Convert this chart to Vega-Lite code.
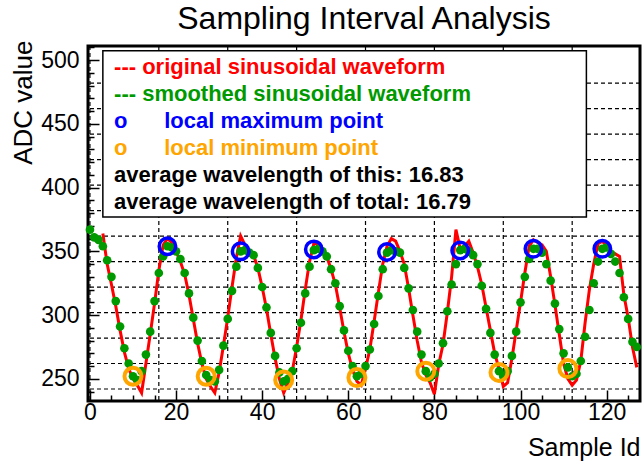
{
  "$schema": "https://vega.github.io/schema/vega-lite/v6.json",
  "width": 552,
  "height": 355,
  "autosize": {"type": "none"},
  "padding": {"left": 88, "top": 46, "right": 4, "bottom": 62},
  "background": "white",
  "title": {"text": "Sampling Interval Analysis", "fontSize": 32, "font": "Liberation Sans", "fontWeight": "normal", "color": "black", "anchor": "middle", "baseline": "alphabetic", "offset": -25},
  "config": {
    "view": {"stroke": "black", "strokeWidth": 3},
    "font": "Liberation Sans",
    "axis": {"labelOverlap": false, "labelFlush": false, "grid": false, "domain": false, "tickColor": "black", "tickWidth": 1.5, "labelColor": "black", "titleColor": "black", "labelFont": "Liberation Sans", "titleFont": "Liberation Sans", "labelFontSize": 23, "titleFontWeight": "normal"}
  },
  "datasets": {
    "wave": [
      {"sample": 0, "original": null, "smoothed": 367},
      {"sample": 1, "original": null, "smoothed": 361},
      {"sample": 2, "original": null, "smoothed": 359},
      {"sample": 3, "original": 364, "smoothed": 354},
      {"sample": 4, "original": 340, "smoothed": 343},
      {"sample": 5, "original": 324, "smoothed": 330},
      {"sample": 6, "original": 307, "smoothed": 311},
      {"sample": 7, "original": 288, "smoothed": 291},
      {"sample": 8, "original": 271, "smoothed": 274},
      {"sample": 9, "original": 258, "smoothed": 262},
      {"sample": 10, "original": 250, "smoothed": 252},
      {"sample": 11, "original": 245, "smoothed": 249},
      {"sample": 12, "original": 239, "smoothed": 256},
      {"sample": 13, "original": 262, "smoothed": 269},
      {"sample": 14, "original": 285, "smoothed": 287},
      {"sample": 15, "original": 309, "smoothed": 311},
      {"sample": 16, "original": 335, "smoothed": 333},
      {"sample": 17, "original": 355, "smoothed": 346},
      {"sample": 18, "original": 360, "smoothed": 354},
      {"sample": 19, "original": 357, "smoothed": 353},
      {"sample": 20, "original": 350, "smoothed": 350},
      {"sample": 21, "original": 342, "smoothed": 344},
      {"sample": 22, "original": 332, "smoothed": 333},
      {"sample": 23, "original": 316, "smoothed": 317},
      {"sample": 24, "original": 297, "smoothed": 298},
      {"sample": 25, "original": 278, "smoothed": 280},
      {"sample": 26, "original": 262, "smoothed": 264},
      {"sample": 27, "original": 250, "smoothed": 253},
      {"sample": 28, "original": 244, "smoothed": 249},
      {"sample": 29, "original": 239, "smoothed": 248},
      {"sample": 30, "original": 255, "smoothed": 257},
      {"sample": 31, "original": 276, "smoothed": 276},
      {"sample": 32, "original": 298, "smoothed": 297},
      {"sample": 33, "original": 322, "smoothed": 319},
      {"sample": 34, "original": 345, "smoothed": 338},
      {"sample": 35, "original": 362, "smoothed": 350},
      {"sample": 36, "original": 355, "smoothed": 351},
      {"sample": 37, "original": 350, "smoothed": 349},
      {"sample": 38, "original": 347, "smoothed": 347},
      {"sample": 39, "original": 337, "smoothed": 337},
      {"sample": 40, "original": 322, "smoothed": 322},
      {"sample": 41, "original": 305, "smoothed": 306},
      {"sample": 42, "original": 285, "smoothed": 286},
      {"sample": 43, "original": 266, "smoothed": 268},
      {"sample": 44, "original": 250, "smoothed": 255},
      {"sample": 45, "original": 239, "smoothed": 248},
      {"sample": 46, "original": 247, "smoothed": 250},
      {"sample": 47, "original": 256, "smoothed": 256},
      {"sample": 48, "original": 275, "smoothed": 274},
      {"sample": 49, "original": 296, "smoothed": 294},
      {"sample": 50, "original": 320, "smoothed": 317},
      {"sample": 51, "original": 342, "smoothed": 338},
      {"sample": 52, "original": 356, "smoothed": 351},
      {"sample": 53, "original": 357, "smoothed": 352},
      {"sample": 54, "original": 352, "smoothed": 350},
      {"sample": 55, "original": 346, "smoothed": 346},
      {"sample": 56, "original": 336, "smoothed": 336},
      {"sample": 57, "original": 324, "smoothed": 325},
      {"sample": 58, "original": 306, "smoothed": 307},
      {"sample": 59, "original": 287, "smoothed": 288},
      {"sample": 60, "original": 270, "smoothed": 272},
      {"sample": 61, "original": 257, "smoothed": 260},
      {"sample": 62, "original": 248, "smoothed": 252},
      {"sample": 63, "original": 245, "smoothed": 254},
      {"sample": 64, "original": 258, "smoothed": 260},
      {"sample": 65, "original": 273, "smoothed": 273},
      {"sample": 66, "original": 295, "smoothed": 293},
      {"sample": 67, "original": 318, "smoothed": 315},
      {"sample": 68, "original": 340, "smoothed": 336},
      {"sample": 69, "original": 354, "smoothed": 349},
      {"sample": 70, "original": 360, "smoothed": 351},
      {"sample": 71, "original": 358, "smoothed": 350},
      {"sample": 72, "original": 350, "smoothed": 349},
      {"sample": 73, "original": 340, "smoothed": 337},
      {"sample": 74, "original": 321, "smoothed": 321},
      {"sample": 75, "original": 300, "smoothed": 304},
      {"sample": 76, "original": 280, "smoothed": 287},
      {"sample": 77, "original": 263, "smoothed": 269},
      {"sample": 78, "original": 253, "smoothed": 256},
      {"sample": 79, "original": 247, "smoothed": 251},
      {"sample": 80, "original": 238, "smoothed": 254},
      {"sample": 81, "original": 261, "smoothed": 262},
      {"sample": 82, "original": 277, "smoothed": 278},
      {"sample": 83, "original": 302, "smoothed": 303},
      {"sample": 84, "original": 330, "smoothed": 324},
      {"sample": 85, "original": 367, "smoothed": 340},
      {"sample": 86, "original": 352, "smoothed": 351},
      {"sample": 87, "original": 354, "smoothed": 352},
      {"sample": 88, "original": 358, "smoothed": 350},
      {"sample": 89, "original": 349, "smoothed": 347},
      {"sample": 90, "original": 338, "smoothed": 340},
      {"sample": 91, "original": 324, "smoothed": 323},
      {"sample": 92, "original": 306, "smoothed": 305},
      {"sample": 93, "original": 288, "smoothed": 286},
      {"sample": 94, "original": 270, "smoothed": 269},
      {"sample": 95, "original": 258, "smoothed": 256},
      {"sample": 96, "original": 244, "smoothed": 252},
      {"sample": 97, "original": 247, "smoothed": 256},
      {"sample": 98, "original": 266, "smoothed": 268},
      {"sample": 99, "original": 288, "smoothed": 287},
      {"sample": 100, "original": 310, "smoothed": 310},
      {"sample": 101, "original": 333, "smoothed": 330},
      {"sample": 102, "original": 354, "smoothed": 344},
      {"sample": 103, "original": 359, "smoothed": 352},
      {"sample": 104, "original": 357, "smoothed": 352},
      {"sample": 105, "original": 355, "smoothed": 349},
      {"sample": 106, "original": 350, "smoothed": 340},
      {"sample": 107, "original": 330, "smoothed": 327},
      {"sample": 108, "original": 308, "smoothed": 309},
      {"sample": 109, "original": 285, "smoothed": 289},
      {"sample": 110, "original": 262, "smoothed": 270},
      {"sample": 111, "original": 250, "smoothed": 259},
      {"sample": 112, "original": 245, "smoothed": 252},
      {"sample": 113, "original": 249, "smoothed": 254},
      {"sample": 114, "original": 264, "smoothed": 264},
      {"sample": 115, "original": 294, "smoothed": 283},
      {"sample": 116, "original": 320, "smoothed": 304},
      {"sample": 117, "original": 340, "smoothed": 325},
      {"sample": 118, "original": 356, "smoothed": 342},
      {"sample": 119, "original": 358, "smoothed": 352},
      {"sample": 120, "original": 354, "smoothed": 353},
      {"sample": 121, "original": 350, "smoothed": 348},
      {"sample": 122, "original": 348, "smoothed": 342},
      {"sample": 123, "original": 346, "smoothed": 333},
      {"sample": 124, "original": 316, "smoothed": 314},
      {"sample": 125, "original": 298, "smoothed": 297},
      {"sample": 126, "original": 275, "smoothed": 279},
      {"sample": 127, "original": 259, "smoothed": 275}
    ],
    "maxima": [
      {"sample": 18, "adc": 354},
      {"sample": 35, "adc": 350},
      {"sample": 52, "adc": 351.5},
      {"sample": 69, "adc": 349.5},
      {"sample": 86, "adc": 350.7},
      {"sample": 103, "adc": 352},
      {"sample": 119, "adc": 352}
    ],
    "minima": [
      {"sample": 10, "adc": 252},
      {"sample": 27, "adc": 252},
      {"sample": 45, "adc": 249},
      {"sample": 62, "adc": 251},
      {"sample": 78, "adc": 256},
      {"sample": 95, "adc": 255},
      {"sample": 111, "adc": 258}
    ],
    "vgrid": [
      {"sample": 0}, {"sample": 16}, {"sample": 32}, {"sample": 48},
      {"sample": 64}, {"sample": 80}, {"sample": 96}, {"sample": 112}
    ],
    "hgrid": [
      {"adc": 242}, {"adc": 262}, {"adc": 282}, {"adc": 302}, {"adc": 322},
      {"adc": 342}, {"adc": 362}, {"adc": 382}, {"adc": 402}, {"adc": 422},
      {"adc": 442}, {"adc": 462}, {"adc": 482}
    ],
    "legend": [
      {"line": 1, "text": "--- original sinusoidal waveform", "kind": "original"},
      {"line": 2, "text": "--- smoothed sinusoidal waveform", "kind": "smoothed"},
      {"line": 3, "text": "o\u00a0\u00a0\u00a0\u00a0\u00a0\u00a0local maximum point", "kind": "maximum"},
      {"line": 4, "text": "o\u00a0\u00a0\u00a0\u00a0\u00a0\u00a0local minimum point", "kind": "minimum"},
      {"line": 5, "text": "average wavelength of this: 16.83", "kind": "info"},
      {"line": 6, "text": "average wavelength of total: 16.79", "kind": "info"}
    ]
  },
  "layer": [
    {
      "layer": [
        {
          "data": {"name": "vgrid"},
          "mark": {"type": "rule", "color": "black", "strokeWidth": 1.2, "strokeDash": [4, 3]},
          "encoding": {
            "x": {"field": "sample", "type": "quantitative", "scale": {"domain": [-0.45, 127.75], "nice": false, "zero": false},
              "axis": {"title": "Sample Id", "titleFontSize": 25, "titleAnchor": "end", "titleAlign": "right", "titleBaseline": "alphabetic", "titleX": 552, "titleY": 54, "values": [0, 5, 10, 15, 20, 25, 30, 35, 40, 45, 50, 55, 60, 65, 70, 75, 80, 85, 90, 95, 100, 105, 110, 115, 120, 125], "labelExpr": "datum.value % 20 === 0 ? datum.label : ''", "labelPadding": 11, "labelOverlap": false, "tickSize": {"condition": {"test": "datum.value % 20 === 0", "value": -11}, "value": -6}}}
          }
        },
        {
          "data": {"name": "hgrid"},
          "mark": {"type": "rule", "color": "black", "strokeWidth": 1.2, "strokeDash": [4, 3]},
          "encoding": {
            "y": {"field": "adc", "type": "quantitative", "scale": {"domain": [232.6, 511.1], "nice": false, "zero": false},
              "axis": {"title": "ADC value", "titleFontSize": 26, "titleAnchor": "end", "titleAngle": -90, "titleAlign": "right", "titleBaseline": "alphabetic", "titleX": -57, "titleY": -6, "values": [240, 250, 260, 270, 280, 290, 300, 310, 320, 330, 340, 350, 360, 370, 380, 390, 400, 410, 420, 430, 440, 450, 460, 470, 480, 490, 500, 510], "labelExpr": "datum.value % 50 === 0 ? datum.label : ''", "labelPadding": 20, "labelOverlap": false, "tickSize": {"condition": {"test": "datum.value % 50 === 0", "value": -11}, "value": -6}}}
          }
        },
        {
          "data": {"name": "wave"},
          "transform": [{"filter": "isValid(datum.original)"}],
          "mark": {"type": "line", "color": "#ff0000", "strokeWidth": 3, "strokeJoin": "miter"},
          "encoding": {
            "x": {"field": "sample", "type": "quantitative",
              "axis": {"title": "Sample Id", "titleFontSize": 25, "titleAnchor": "end", "titleAlign": "right", "titleBaseline": "alphabetic", "titleX": 552, "titleY": 54, "values": [0, 5, 10, 15, 20, 25, 30, 35, 40, 45, 50, 55, 60, 65, 70, 75, 80, 85, 90, 95, 100, 105, 110, 115, 120, 125], "labelExpr": "datum.value % 20 === 0 ? datum.label : ''", "labelPadding": 11, "labelOverlap": false, "tickSize": {"condition": {"test": "datum.value % 20 === 0", "value": -11}, "value": -6}}},
            "y": {"field": "original", "type": "quantitative",
              "axis": {"title": "ADC value", "titleFontSize": 26, "titleAnchor": "end", "titleAngle": -90, "titleAlign": "right", "titleBaseline": "alphabetic", "titleX": -57, "titleY": -6, "values": [240, 250, 260, 270, 280, 290, 300, 310, 320, 330, 340, 350, 360, 370, 380, 390, 400, 410, 420, 430, 440, 450, 460, 470, 480, 490, 500, 510], "labelExpr": "datum.value % 50 === 0 ? datum.label : ''", "labelPadding": 20, "labelOverlap": false, "tickSize": {"condition": {"test": "datum.value % 50 === 0", "value": -11}, "value": -6}}}
          }
        },
        {
          "data": {"name": "wave"},
          "mark": {"type": "point", "shape": "circle", "filled": true, "size": 75, "color": "#009900", "opacity": 1},
          "encoding": {
            "x": {"field": "sample", "type": "quantitative",
              "axis": {"title": "Sample Id", "titleFontSize": 25, "titleAnchor": "end", "titleAlign": "right", "titleBaseline": "alphabetic", "titleX": 552, "titleY": 54, "values": [0, 5, 10, 15, 20, 25, 30, 35, 40, 45, 50, 55, 60, 65, 70, 75, 80, 85, 90, 95, 100, 105, 110, 115, 120, 125], "labelExpr": "datum.value % 20 === 0 ? datum.label : ''", "labelPadding": 11, "labelOverlap": false, "tickSize": {"condition": {"test": "datum.value % 20 === 0", "value": -11}, "value": -6}}},
            "y": {"field": "smoothed", "type": "quantitative",
              "axis": {"title": "ADC value", "titleFontSize": 26, "titleAnchor": "end", "titleAngle": -90, "titleAlign": "right", "titleBaseline": "alphabetic", "titleX": -57, "titleY": -6, "values": [240, 250, 260, 270, 280, 290, 300, 310, 320, 330, 340, 350, 360, 370, 380, 390, 400, 410, 420, 430, 440, 450, 460, 470, 480, 490, 500, 510], "labelExpr": "datum.value % 50 === 0 ? datum.label : ''", "labelPadding": 20, "labelOverlap": false, "tickSize": {"condition": {"test": "datum.value % 50 === 0", "value": -11}, "value": -6}}}
          }
        },
        {
          "data": {"name": "maxima"},
          "mark": {"type": "point", "shape": "circle", "filled": false, "size": 272, "stroke": "#0000ff", "strokeWidth": 3.5, "opacity": 1},
          "encoding": {
            "x": {"field": "sample", "type": "quantitative",
              "axis": {"title": "Sample Id", "titleFontSize": 25, "titleAnchor": "end", "titleAlign": "right", "titleBaseline": "alphabetic", "titleX": 552, "titleY": 54, "values": [0, 5, 10, 15, 20, 25, 30, 35, 40, 45, 50, 55, 60, 65, 70, 75, 80, 85, 90, 95, 100, 105, 110, 115, 120, 125], "labelExpr": "datum.value % 20 === 0 ? datum.label : ''", "labelPadding": 11, "labelOverlap": false, "tickSize": {"condition": {"test": "datum.value % 20 === 0", "value": -11}, "value": -6}}},
            "y": {"field": "adc", "type": "quantitative",
              "axis": {"title": "ADC value", "titleFontSize": 26, "titleAnchor": "end", "titleAngle": -90, "titleAlign": "right", "titleBaseline": "alphabetic", "titleX": -57, "titleY": -6, "values": [240, 250, 260, 270, 280, 290, 300, 310, 320, 330, 340, 350, 360, 370, 380, 390, 400, 410, 420, 430, 440, 450, 460, 470, 480, 490, 500, 510], "labelExpr": "datum.value % 50 === 0 ? datum.label : ''", "labelPadding": 20, "labelOverlap": false, "tickSize": {"condition": {"test": "datum.value % 50 === 0", "value": -11}, "value": -6}}}
          }
        },
        {
          "data": {"name": "minima"},
          "mark": {"type": "point", "shape": "circle", "filled": false, "size": 289, "stroke": "#ffa500", "strokeWidth": 4, "opacity": 1},
          "encoding": {
            "x": {"field": "sample", "type": "quantitative",
              "axis": {"title": "Sample Id", "titleFontSize": 25, "titleAnchor": "end", "titleAlign": "right", "titleBaseline": "alphabetic", "titleX": 552, "titleY": 54, "values": [0, 5, 10, 15, 20, 25, 30, 35, 40, 45, 50, 55, 60, 65, 70, 75, 80, 85, 90, 95, 100, 105, 110, 115, 120, 125], "labelExpr": "datum.value % 20 === 0 ? datum.label : ''", "labelPadding": 11, "labelOverlap": false, "tickSize": {"condition": {"test": "datum.value % 20 === 0", "value": -11}, "value": -6}}},
            "y": {"field": "adc", "type": "quantitative",
              "axis": {"title": "ADC value", "titleFontSize": 26, "titleAnchor": "end", "titleAngle": -90, "titleAlign": "right", "titleBaseline": "alphabetic", "titleX": -57, "titleY": -6, "values": [240, 250, 260, 270, 280, 290, 300, 310, 320, 330, 340, 350, 360, 370, 380, 390, 400, 410, 420, 430, 440, 450, 460, 470, 480, 490, 500, 510], "labelExpr": "datum.value % 50 === 0 ? datum.label : ''", "labelPadding": 20, "labelOverlap": false, "tickSize": {"condition": {"test": "datum.value % 50 === 0", "value": -11}, "value": -6}}}
          }
        }
      ]
    },
    {
      "layer": [
        {
          "data": {"values": [{"item": "legend box"}]},
          "mark": {"type": "rect", "fill": "white", "stroke": "black", "strokeWidth": 1.5},
          "encoding": {
            "x": {"datum": 3.0, "type": "quantitative",
              "axis": {"title": "Sample Id", "titleFontSize": 25, "titleAnchor": "end", "titleAlign": "right", "titleBaseline": "alphabetic", "titleX": 552, "titleY": 54, "values": [0, 5, 10, 15, 20, 25, 30, 35, 40, 45, 50, 55, 60, 65, 70, 75, 80, 85, 90, 95, 100, 105, 110, 115, 120, 125], "labelExpr": "datum.value % 20 === 0 ? datum.label : ''", "labelPadding": 11, "labelOverlap": false, "tickSize": {"condition": {"test": "datum.value % 20 === 0", "value": -11}, "value": -6}}},
            "x2": {"datum": 115.3},
            "y": {"datum": 0.407, "type": "quantitative", "scale": {"domain": [0.233, 13.381], "reverse": true, "nice": false, "zero": false}, "axis": null},
            "y2": {"datum": 6.566}
          }
        },
        {
          "data": {"name": "legend"},
          "mark": {"type": "text", "align": "left", "baseline": "middle", "fontSize": 22, "fontWeight": "bold", "font": "Liberation Sans"},
          "encoding": {
            "x": {"datum": 5.6, "type": "quantitative",
              "axis": {"title": "Sample Id", "titleFontSize": 25, "titleAnchor": "end", "titleAlign": "right", "titleBaseline": "alphabetic", "titleX": 552, "titleY": 54, "values": [0, 5, 10, 15, 20, 25, 30, 35, 40, 45, 50, 55, 60, 65, 70, 75, 80, 85, 90, 95, 100, 105, 110, 115, 120, 125], "labelExpr": "datum.value % 20 === 0 ? datum.label : ''", "labelPadding": 11, "labelOverlap": false, "tickSize": {"condition": {"test": "datum.value % 20 === 0", "value": -11}, "value": -6}}},
            "y": {"field": "line", "type": "quantitative", "axis": null},
            "text": {"field": "text"},
            "color": {
              "field": "kind", "type": "nominal",
              "scale": {"domain": ["original", "smoothed", "maximum", "minimum", "info"], "range": ["#ff0000", "#009900", "#0000ff", "#ffa500", "#000000"]},
              "legend": null
            }
          }
        }
      ]
    }
  ],
  "resolve": {"scale": {"y": "independent"}}
}
